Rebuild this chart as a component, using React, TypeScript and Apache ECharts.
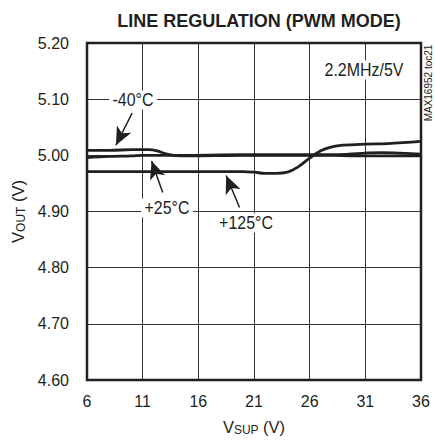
import React, { useEffect, useRef } from "react";
import * as echarts from "echarts";

const xTicks = [6, 11, 16, 21, 26, 31, 36];
const yTicks = [4.6, 4.7, 4.8, 4.9, 5.0, 5.1, 5.2];

const seriesMinus40: [number, number][] = [
  [6, 5.009], [8, 5.009], [10, 5.01], [11.5, 5.01], [12.3, 5.008], [13, 5.003],
  [13.8, 5.0], [15, 4.999], [20, 5.0], [25, 5.0], [28, 5.0], [30, 4.999],
  [33, 4.999], [36, 4.999],
];
const series25: [number, number][] = [
  [6, 4.996], [8, 4.998], [10, 4.999], [11, 5.0], [14, 5.0], [20, 5.001],
  [25, 5.001], [28, 5.001], [29.5, 5.002], [31, 5.004], [32.5, 5.005],
  [34, 5.004], [36, 5.002],
];
const series125: [number, number][] = [
  [6, 4.971], [10, 4.971], [15, 4.971], [20, 4.971], [21, 4.97], [22, 4.968],
  [23, 4.968], [24, 4.97], [25, 4.98], [26, 4.995], [27, 5.008], [28, 5.015],
  [29, 5.018], [31, 5.02], [33, 5.021], [36, 5.025],
];
const seriesNames = ["-40°C", "+25°C", "+125°C"];
// arrows: [from, to] in data coords (V, Vout)
const arrows: [number, number][][] = [
  [[10.05, 5.075], [8.6, 5.018]],
  [[12.8, 4.934], [11.8, 4.99]],
  [[19.7, 4.907], [18.5, 4.964]],
];

const X0 = 6;
const FONT = "'Liberation Sans', Arial, Helvetica, sans-serif";
const INK = "#231f20";

export default function App() {
  const ref = useRef<HTMLDivElement>(null);
  useEffect(() => {
    if (!ref.current) return;
    const chart = echarts.init(ref.current, undefined, { renderer: "svg" });
    const shift = (d: [number, number][]) => d.map(([x, y]) => [x - X0, y]);
    const lineStyle = { color: INK, width: 2.8 };
    const allSeries = [seriesMinus40, series25, series125].map((d, i) => ({
      type: "line",
      name: seriesNames[i],
      data: shift(d),
      smooth: 0.4,
      showSymbol: false,
      symbol: "none",
      lineStyle,
      z: 3,
    }));
    (allSeries[0] as any).markLine = {
      silent: true,
      symbol: ["none", "arrow"],
      symbolSize: [12, 18],
      label: { show: false },
      lineStyle: { color: INK, width: 1.5, type: "solid" },
      data: arrows.map(([a, b]) => [
        { coord: [a[0] - X0, a[1]] },
        { coord: [b[0] - X0, b[1]] },
      ]),
    };
    const labelText = (text: string, x: number, y: number) => ({
      type: "text",
      x,
      y,
      z: 10,
      scaleX: 0.84,
      style: {
        text,
        fill: INK,
        font: `19px ${FONT}`,
        align: "center",
        verticalAlign: "middle",
        backgroundColor: "#fff",
        padding: [0, 4],
      },
    });
    chart.setOption({
      animation: false,
      title: {
        text: "LINE REGULATION (PWM MODE)",
        left: 254,
        textAlign: "center",
        top: 7,
        textStyle: { fontFamily: FONT, fontSize: 18, fontWeight: "bold", color: INK },
      },
      grid: {
        left: 87,
        right: 14,
        top: 43,
        bottom: 65,
        show: true,
        borderColor: INK,
        borderWidth: 2.5,
        z: 4,
      },
      xAxis: {
        type: "value",
        min: xTicks[0] - X0,
        max: xTicks[xTicks.length - 1] - X0,
        interval: xTicks[1] - xTicks[0],
        axisLine: { show: false },
        axisTick: { show: false },
        splitLine: { lineStyle: { color: "#333", width: 1 } },
        axisLabel: {
          formatter: (v: number) => String(v + X0),
          fontFamily: FONT,
          fontSize: 16,
          color: INK,
          margin: 13,
        },
        name: "{v|V}{s|SUP}{v| (V)}",
        nameLocation: "middle",
        nameGap: 38,
        nameTextStyle: {
          rich: {
            v: { fontFamily: FONT, fontSize: 16.5, color: INK },
            s: { fontFamily: FONT, fontSize: 12, color: INK, verticalAlign: "bottom", padding: [6, 0, 0, 0] },
          },
        },
      },
      yAxis: {
        type: "value",
        min: yTicks[0],
        max: yTicks[yTicks.length - 1],
        interval: 0.1,
        axisLine: { show: false },
        axisTick: { show: false },
        splitLine: { lineStyle: { color: "#333", width: 1 } },
        axisLabel: {
          formatter: (v: number) => v.toFixed(2),
          fontFamily: FONT,
          fontSize: 16,
          color: INK,
          margin: 18,
        },
        name: "{v|V}{s|OUT}{v| (V)}",
        nameLocation: "middle",
        nameGap: 60,
        nameTextStyle: {
          rich: {
            v: { fontFamily: FONT, fontSize: 16.5, color: INK },
            s: { fontFamily: FONT, fontSize: 12, color: INK, verticalAlign: "bottom", padding: [6, 0, 0, 0] },
          },
        },
      },
      graphic: [
        labelText("-40°C", 133, 100),
        labelText("+25°C", 167, 208),
        labelText("+125°C", 246, 223),
        labelText("2.2MHz/5V", 364, 70),
        {
          type: "text",
          x: 428,
          y: 83,
          rotation: Math.PI / 2,
          style: {
            text: "MAX16952 toc21",
            fill: INK,
            font: "10px 'Liberation Sans', Arial, sans-serif",
            align: "center",
            verticalAlign: "middle",
          },
        },
      ],
      series: allSeries,
    });
    return () => chart.dispose();
  }, []);
  return (
    <div
      ref={ref}
      style={{ position: "fixed", left: 0, top: 0, width: 435, height: 445, background: "#fff" }}
    />
  );
}
